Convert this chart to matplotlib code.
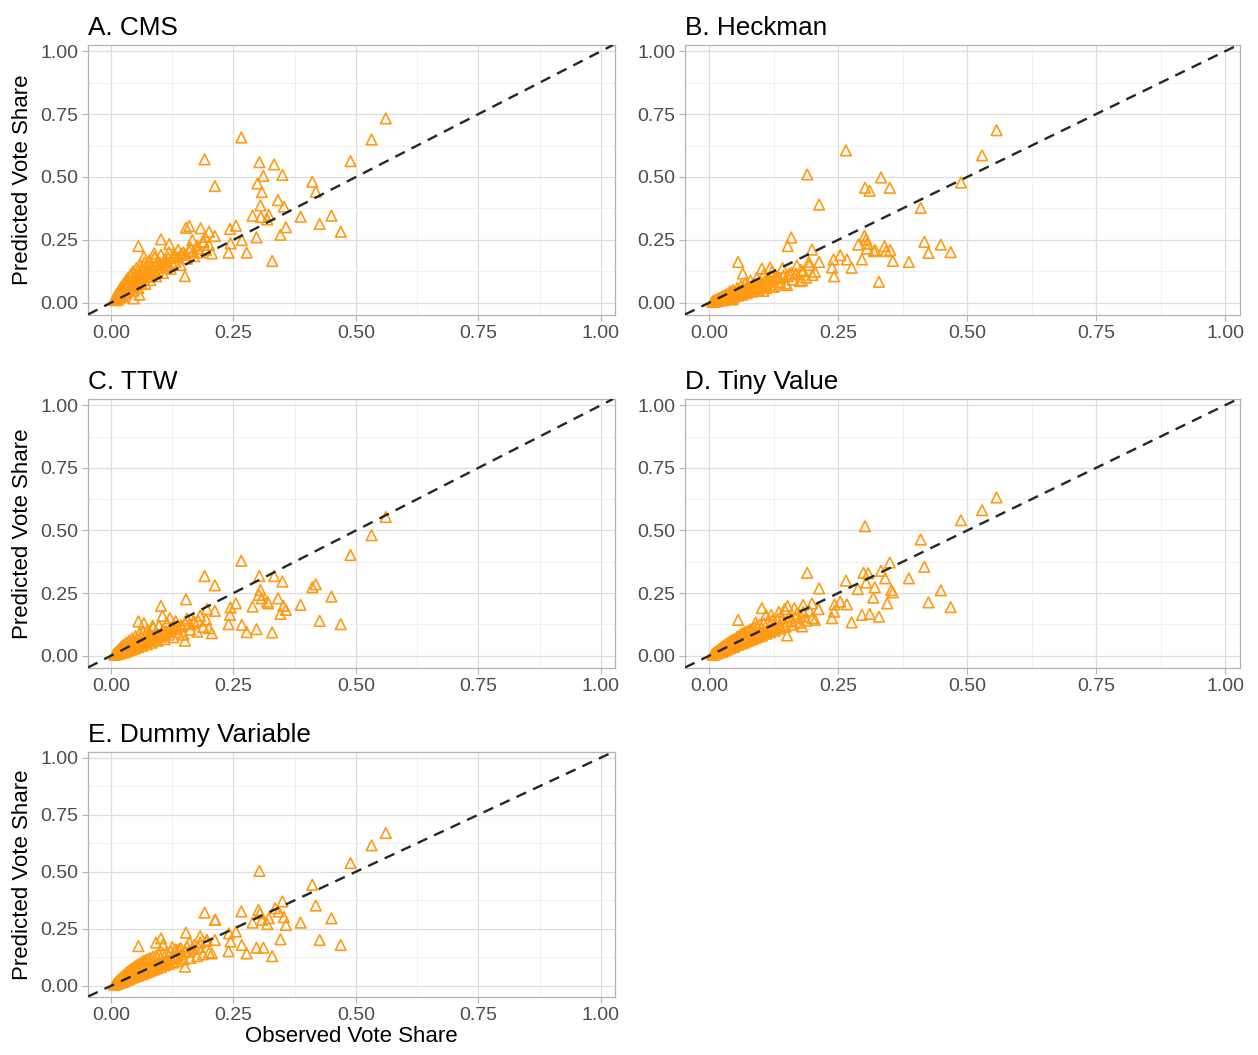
import matplotlib
matplotlib.use("Agg")
import matplotlib.pyplot as plt
from matplotlib.ticker import FixedLocator, FormatStrFormatter

plt.rcParams['font.family'] = ['Liberation Sans', 'DejaVu Sans']

# observed vote share of the dense cluster (shared by all models)
obs_cluster = [0.006, 0.008, 0.009, 0.010, 0.011, 0.012, 0.013, 0.014, 0.015, 0.016,
               0.017, 0.018, 0.019, 0.020, 0.021, 0.022, 0.023, 0.024, 0.025, 0.026,
               0.028, 0.029, 0.030, 0.031, 0.033, 0.034, 0.035, 0.037, 0.038, 0.040,
               0.041, 0.043, 0.045, 0.046, 0.048, 0.050, 0.052, 0.054, 0.056, 0.058,
               0.060, 0.062, 0.064, 0.066, 0.068, 0.070, 0.073, 0.075, 0.078, 0.080,
               0.083, 0.086, 0.089, 0.092, 0.095, 0.098, 0.102, 0.106, 0.110, 0.114,
               0.118, 0.122, 0.127, 0.132, 0.137, 0.142, 0.148, 0.155, 0.162, 0.170,
               0.176, 0.182, 0.188, 0.194, 0.200,
               0.012, 0.016, 0.019, 0.022, 0.025, 0.027, 0.030, 0.032, 0.036, 0.039,
               0.042, 0.044, 0.047, 0.049, 0.053, 0.055, 0.059, 0.063, 0.067, 0.071,
               0.074, 0.077, 0.081, 0.085, 0.088, 0.091, 0.096, 0.100, 0.104, 0.108,
               0.112, 0.117, 0.124, 0.130, 0.136, 0.144, 0.152, 0.160, 0.168, 0.178]

pred_cluster_cms = [0.012, 0.020, 0.010, 0.028, 0.016, 0.035, 0.022, 0.012, 0.040, 0.026,
                    0.048, 0.020, 0.055, 0.034, 0.062, 0.028, 0.045, 0.070, 0.024, 0.052,
                    0.080, 0.038, 0.060, 0.090, 0.044, 0.072, 0.100, 0.050, 0.084, 0.112,
                    0.058, 0.094, 0.125, 0.048, 0.105, 0.070, 0.138, 0.086, 0.058, 0.118,
                    0.150, 0.078, 0.130, 0.100, 0.160, 0.075, 0.140, 0.112, 0.168, 0.090,
                    0.150, 0.125, 0.180, 0.105, 0.160, 0.140, 0.190, 0.118, 0.172, 0.150,
                    0.200, 0.135, 0.185, 0.162, 0.210, 0.150, 0.200, 0.175, 0.220, 0.185,
                    0.228, 0.200, 0.240, 0.210, 0.230,
                    0.028, 0.030, 0.040, 0.044, 0.038, 0.058, 0.050, 0.066, 0.060, 0.074,
                    0.070, 0.084, 0.076, 0.094, 0.080, 0.102, 0.092, 0.110, 0.098, 0.122,
                    0.104, 0.130, 0.118, 0.140, 0.130, 0.150, 0.128, 0.158, 0.140, 0.165,
                    0.148, 0.178, 0.160, 0.190, 0.180, 0.195, 0.190, 0.205, 0.200, 0.215]
pred_cluster_heckman = [0.004, 0.006, 0.003, 0.008, 0.005, 0.010, 0.007, 0.012, 0.006, 0.014,
                        0.009, 0.016, 0.008, 0.018, 0.011, 0.020, 0.013, 0.022, 0.010, 0.024,
                        0.015, 0.027, 0.012, 0.030, 0.019, 0.033, 0.016, 0.036, 0.022, 0.045,
                        0.020, 0.040, 0.026, 0.050, 0.023, 0.044, 0.030, 0.058, 0.028, 0.050,
                        0.036, 0.068, 0.032, 0.056, 0.042, 0.078, 0.038, 0.064, 0.048, 0.088,
                        0.044, 0.074, 0.056, 0.098, 0.050, 0.084, 0.064, 0.112, 0.058, 0.094,
                        0.072, 0.125, 0.066, 0.104, 0.082, 0.138, 0.076, 0.115, 0.092, 0.148,
                        0.086, 0.125, 0.100, 0.150, 0.110,
                        0.008, 0.011, 0.013, 0.015, 0.018, 0.020, 0.021, 0.025, 0.026, 0.030,
                        0.030, 0.034, 0.036, 0.038, 0.040, 0.044, 0.044, 0.050, 0.050, 0.056,
                        0.054, 0.062, 0.060, 0.068, 0.064, 0.072, 0.070, 0.080, 0.076, 0.086,
                        0.082, 0.092, 0.090, 0.100, 0.098, 0.108, 0.106, 0.118, 0.116, 0.130]
pred_cluster_ttw = [0.005, 0.009, 0.004, 0.012, 0.007, 0.016, 0.009, 0.020, 0.008, 0.024,
                    0.012, 0.028, 0.010, 0.032, 0.015, 0.038, 0.017, 0.026, 0.013, 0.044,
                    0.020, 0.034, 0.016, 0.052, 0.024, 0.040, 0.020, 0.060, 0.028, 0.048,
                    0.024, 0.068, 0.034, 0.055, 0.028, 0.078, 0.040, 0.062, 0.034, 0.088,
                    0.046, 0.070, 0.040, 0.096, 0.054, 0.078, 0.046, 0.104, 0.060, 0.086,
                    0.052, 0.112, 0.068, 0.094, 0.060, 0.120, 0.076, 0.102, 0.066, 0.130,
                    0.084, 0.112, 0.074, 0.138, 0.094, 0.122, 0.084, 0.148, 0.104, 0.135,
                    0.096, 0.160, 0.115, 0.145, 0.110,
                    0.009, 0.014, 0.016, 0.018, 0.022, 0.022, 0.026, 0.027, 0.031, 0.032,
                    0.037, 0.036, 0.041, 0.040, 0.046, 0.045, 0.052, 0.052, 0.058, 0.058,
                    0.064, 0.064, 0.070, 0.070, 0.078, 0.076, 0.084, 0.082, 0.090, 0.090,
                    0.098, 0.096, 0.106, 0.106, 0.116, 0.118, 0.128, 0.126, 0.138, 0.140]
pred_cluster_tiny = [0.004, 0.008, 0.005, 0.011, 0.007, 0.014, 0.009, 0.017, 0.010, 0.020,
                     0.012, 0.023, 0.013, 0.026, 0.015, 0.030, 0.017, 0.033, 0.016, 0.036,
                     0.020, 0.040, 0.022, 0.044, 0.025, 0.047, 0.026, 0.052, 0.030, 0.056,
                     0.031, 0.060, 0.036, 0.064, 0.036, 0.068, 0.042, 0.076, 0.044, 0.080,
                     0.048, 0.086, 0.050, 0.090, 0.054, 0.096, 0.058, 0.100, 0.062, 0.106,
                     0.066, 0.112, 0.070, 0.118, 0.076, 0.124, 0.080, 0.130, 0.088, 0.136,
                     0.094, 0.140, 0.100, 0.146, 0.108, 0.150, 0.116, 0.158, 0.124, 0.168,
                     0.132, 0.175, 0.140, 0.180, 0.150,
                     0.011, 0.014, 0.017, 0.019, 0.022, 0.024, 0.027, 0.028, 0.032, 0.034,
                     0.037, 0.039, 0.042, 0.043, 0.047, 0.048, 0.053, 0.055, 0.060, 0.062,
                     0.066, 0.068, 0.073, 0.074, 0.079, 0.080, 0.086, 0.088, 0.094, 0.095,
                     0.100, 0.103, 0.110, 0.114, 0.122, 0.126, 0.136, 0.140, 0.150, 0.156]
pred_cluster_dummy = [0.005, 0.010, 0.006, 0.014, 0.008, 0.018, 0.010, 0.022, 0.011, 0.026,
                      0.013, 0.030, 0.015, 0.034, 0.017, 0.038, 0.019, 0.042, 0.018, 0.046,
                      0.022, 0.050, 0.024, 0.056, 0.027, 0.060, 0.028, 0.066, 0.032, 0.070,
                      0.034, 0.076, 0.038, 0.080, 0.040, 0.086, 0.044, 0.092, 0.046, 0.096,
                      0.050, 0.102, 0.052, 0.108, 0.056, 0.112, 0.060, 0.118, 0.064, 0.122,
                      0.068, 0.128, 0.072, 0.132, 0.078, 0.138, 0.082, 0.142, 0.090, 0.148,
                      0.096, 0.152, 0.102, 0.160, 0.108, 0.166, 0.116, 0.172, 0.122, 0.180,
                      0.130, 0.190, 0.138, 0.196, 0.146,
                      0.012, 0.015, 0.019, 0.020, 0.025, 0.026, 0.030, 0.030, 0.036, 0.037,
                      0.042, 0.042, 0.047, 0.047, 0.052, 0.052, 0.058, 0.060, 0.066, 0.068,
                      0.074, 0.074, 0.080, 0.082, 0.088, 0.088, 0.094, 0.096, 0.102, 0.104,
                      0.110, 0.112, 0.120, 0.124, 0.132, 0.138, 0.148, 0.152, 0.162, 0.170]

# scattered points outside the dense cluster, per model
obs_cms = [0.561, 0.532, 0.266, 0.191, 0.489, 0.303, 0.333, 0.311, 0.350, 0.299,
           0.212, 0.411, 0.308, 0.418, 0.341, 0.353, 0.305, 0.289, 0.306, 0.322,
           0.319, 0.387, 0.450, 0.426, 0.469, 0.357, 0.346, 0.297, 0.267, 0.277,
           0.240, 0.244, 0.255, 0.243, 0.329, 0.212, 0.200, 0.183, 0.153, 0.160,
           0.206, 0.192, 0.189, 0.166, 0.151, 0.056, 0.102, 0.119, 0.088, 0.067,
           0.058, 0.046]
pred_cms = [0.733, 0.649, 0.657, 0.570, 0.563, 0.559, 0.550, 0.504, 0.508, 0.474,
            0.464, 0.481, 0.440, 0.441, 0.408, 0.382, 0.387, 0.346, 0.341, 0.349,
            0.331, 0.342, 0.346, 0.313, 0.282, 0.300, 0.270, 0.260, 0.249, 0.199,
            0.199, 0.236, 0.306, 0.293, 0.166, 0.265, 0.282, 0.296, 0.298, 0.305,
            0.196, 0.262, 0.243, 0.249, 0.106, 0.225, 0.252, 0.233, 0.196, 0.183,
            0.032, 0.017]

obs_heckman = [0.557, 0.529, 0.265, 0.190, 0.333, 0.302, 0.311, 0.350, 0.488, 0.213,
               0.410, 0.159, 0.152, 0.199, 0.301, 0.304, 0.289, 0.306, 0.306, 0.319,
               0.322, 0.340, 0.343, 0.351, 0.417, 0.425, 0.449, 0.468, 0.356, 0.387,
               0.296, 0.254, 0.241, 0.238, 0.242, 0.267, 0.276, 0.329, 0.213, 0.205,
               0.193, 0.180, 0.056, 0.151, 0.123, 0.105, 0.102, 0.118, 0.065, 0.045]
pred_heckman = [0.686, 0.586, 0.606, 0.510, 0.498, 0.457, 0.445, 0.457, 0.478, 0.390,
                0.377, 0.259, 0.225, 0.211, 0.266, 0.252, 0.231, 0.235, 0.215, 0.205,
                0.209, 0.225, 0.205, 0.209, 0.242, 0.198, 0.231, 0.201, 0.166, 0.162,
                0.172, 0.189, 0.172, 0.140, 0.105, 0.172, 0.139, 0.083, 0.162, 0.123,
                0.162, 0.089, 0.162, 0.070, 0.063, 0.047, 0.136, 0.139, 0.116, 0.013]

obs_ttw = [0.561, 0.532, 0.489, 0.266, 0.191, 0.212, 0.303, 0.333, 0.350, 0.305,
           0.302, 0.308, 0.319, 0.321, 0.341, 0.352, 0.357, 0.346, 0.411, 0.418,
           0.450, 0.387, 0.426, 0.469, 0.289, 0.255, 0.244, 0.243, 0.240, 0.267,
           0.277, 0.297, 0.329, 0.153, 0.212, 0.206, 0.151, 0.102, 0.105, 0.056,
           0.067, 0.196, 0.085, 0.120]
pred_ttw = [0.554, 0.481, 0.402, 0.379, 0.318, 0.281, 0.318, 0.318, 0.296, 0.262,
            0.243, 0.229, 0.216, 0.209, 0.229, 0.199, 0.183, 0.167, 0.273, 0.285,
            0.236, 0.203, 0.139, 0.126, 0.196, 0.209, 0.192, 0.163, 0.126, 0.123,
            0.094, 0.106, 0.093, 0.225, 0.179, 0.090, 0.060, 0.199, 0.159, 0.137,
            0.130, 0.186, 0.120, 0.150]

obs_tiny = [0.557, 0.529, 0.488, 0.410, 0.302, 0.190, 0.213, 0.350, 0.333, 0.299,
            0.308, 0.341, 0.304, 0.265, 0.288, 0.321, 0.318, 0.345, 0.353, 0.356,
            0.417, 0.387, 0.449, 0.425, 0.468, 0.329, 0.311, 0.296, 0.276, 0.238,
            0.242, 0.243, 0.254, 0.267, 0.212, 0.205, 0.199, 0.182, 0.152, 0.146,
            0.102, 0.110, 0.056, 0.151, 0.180, 0.120, 0.090, 0.135, 0.165]
pred_tiny = [0.632, 0.581, 0.541, 0.464, 0.517, 0.331, 0.269, 0.372, 0.339, 0.331,
             0.329, 0.309, 0.292, 0.300, 0.266, 0.273, 0.232, 0.209, 0.262, 0.253,
             0.355, 0.309, 0.261, 0.213, 0.194, 0.156, 0.167, 0.163, 0.133, 0.150,
             0.176, 0.205, 0.216, 0.205, 0.186, 0.143, 0.209, 0.203, 0.199, 0.186,
             0.190, 0.163, 0.143, 0.081, 0.117, 0.163, 0.133, 0.175, 0.190]

obs_dummy = [0.561, 0.532, 0.489, 0.303, 0.411, 0.418, 0.450, 0.350, 0.335, 0.342,
             0.353, 0.357, 0.387, 0.301, 0.304, 0.308, 0.289, 0.319, 0.322, 0.266,
             0.191, 0.212, 0.255, 0.244, 0.240, 0.267, 0.277, 0.297, 0.311, 0.329,
             0.346, 0.426, 0.469, 0.153, 0.212, 0.206, 0.151, 0.102, 0.056, 0.182,
             0.196, 0.241, 0.213, 0.092, 0.106, 0.125, 0.138, 0.160]
pred_dummy = [0.670, 0.616, 0.538, 0.504, 0.443, 0.352, 0.296, 0.370, 0.340, 0.326,
              0.301, 0.267, 0.277, 0.333, 0.318, 0.289, 0.277, 0.271, 0.296, 0.326,
              0.321, 0.289, 0.238, 0.194, 0.152, 0.179, 0.142, 0.167, 0.167, 0.130,
              0.204, 0.201, 0.179, 0.233, 0.201, 0.142, 0.084, 0.208, 0.174, 0.218,
              0.201, 0.230, 0.289, 0.190, 0.180, 0.170, 0.160, 0.190]

titles = ["A. CMS", "B. Heckman", "C. TTW", "D. Tiny Value", "E. Dummy Variable"]
outlier_obs = [obs_cms, obs_heckman, obs_ttw, obs_tiny, obs_dummy]
outlier_pred = [pred_cms, pred_heckman, pred_ttw, pred_tiny, pred_dummy]
cluster_pred = [pred_cluster_cms, pred_cluster_heckman, pred_cluster_ttw,
                pred_cluster_tiny, pred_cluster_dummy]

W, H = 1258, 1055
# panel boxes in pixels: left, top, right, bottom
boxes = [(88, 45, 615, 315), (685, 45, 1240, 315),
         (88, 399, 615, 668), (685, 399, 1240, 668),
         (88, 752, 615, 997)]

fig = plt.figure(figsize=(W / 100, H / 100), dpi=100)

orange = "#FF9A14"
ticks = [0, 0.25, 0.5, 0.75, 1.0]
minor = [0.125, 0.375, 0.625, 0.875]

for i, (l, t, r, b) in enumerate(boxes):
    ax = fig.add_axes([l / W, 1 - b / H, (r - l) / W, (b - t) / H])
    ax.set_xlim(-0.047, 1.029)
    ax.set_ylim(-0.049, 1.025)
    ax.xaxis.set_major_locator(FixedLocator(ticks))
    ax.yaxis.set_major_locator(FixedLocator(ticks))
    ax.xaxis.set_minor_locator(FixedLocator(minor))
    ax.yaxis.set_minor_locator(FixedLocator(minor))
    ax.xaxis.set_major_formatter(FormatStrFormatter("%.2f"))
    ax.yaxis.set_major_formatter(FormatStrFormatter("%.2f"))
    ax.grid(which="major", color="#DEDEDE", lw=0.9)
    ax.grid(which="minor", color="#EEEEEE", lw=0.6)
    ax.set_axisbelow(True)
    ax.tick_params(which="major", length=4, width=0.8, color="#B3B3B3",
                   labelcolor="#4D4D4D", labelsize=14, pad=3)
    ax.tick_params(which="minor", length=0)
    for s in ax.spines.values():
        s.set_color("#B3B3B3")
        s.set_linewidth(0.9)

    ax.scatter(obs_cluster, cluster_pred[i], marker="^", facecolors="none",
               edgecolors=orange, s=58, linewidths=1.2, zorder=2)
    ax.scatter(outlier_obs[i], outlier_pred[i], marker="^", facecolors="none",
               edgecolors=orange, s=58, linewidths=1.2, zorder=2)
    ax.axline((0, 0), slope=1, color="#262626", lw=1.7, ls=(0, (4.5, 3.2)), zorder=3)

    ax.set_title(titles[i], loc="left", fontsize=18.8, pad=7, color="black")
    if i % 2 == 0:
        ax.set_ylabel("Predicted Vote Share", fontsize=16, labelpad=5)
    if i == 4:
        ax.set_xlabel("Observed Vote Share", fontsize=16, labelpad=2)

fig.savefig("out.png", dpi=100)
